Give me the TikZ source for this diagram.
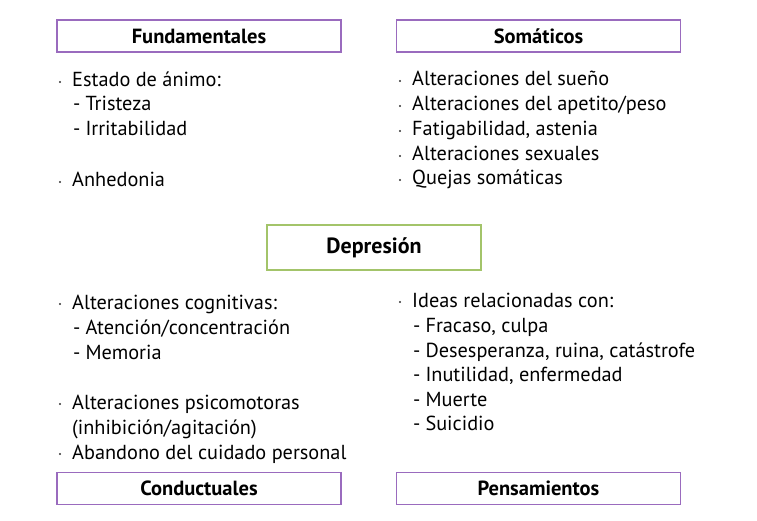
\documentclass[tikz,border=0pt]{standalone}
\usepackage{fontspec}
\setmainfont{PT Sans}
\begin{document}
\begin{tikzpicture}[x=1pt,y=-1pt,
  catbox/.style={draw=catpurple,line width=1.3pt,minimum width=284pt,minimum height=32pt,inner sep=0pt,font=\fontsize{20.5}{22}\selectfont\bfseries},
  mainbox/.style={draw=maingreen,line width=1.3pt,minimum width=214pt,minimum height=45pt,inner sep=0pt,font=\fontsize{22}{24}\selectfont\bfseries},
  item/.style={anchor=west,inner sep=0pt,text height=18pt,text depth=4pt,font=\fontsize{20.3}{22}\selectfont},
  bul/.style={circle,fill=black!80,inner sep=0pt,minimum size=2.2pt}]
\definecolor{catpurple}{HTML}{9A6BBE}
\definecolor{maingreen}{HTML}{A3C46A}
\useasboundingbox (0,0) rectangle (757,521);
% boxes
\node[catbox] (fund) at (199,36) {Fundamentales};
\node[catbox] (soma) at (538.5,36) {Somáticos};
\node[mainbox] (dep) at (374,247.5) {Depresión};
\node[catbox] (cond) at (199,488.5) {Conductuales};
\node[catbox] (pens) at (538.5,488.5) {Pensamientos};
% Fundamentales
\node[bul] (b1) at (60,82) {};
\node[item] (f1) at (72,80) {Estado de ánimo:};
\node[item] (f2) at (73,104) {-\hspace{5pt}Tristeza};
\node[item] (f3) at (73,129) {-\hspace{5pt}Irritabilidad};
\node[bul] (b2) at (60,182) {};
\node[item] (f4) at (72,180) {Anhedonia};
% Somaticos
\node[bul] (b3) at (400,81) {};
\node[item] (s1) at (412,79) {Alteraciones del sueño};
\node[bul] (b4) at (400,106) {};
\node[item] (s2) at (412,104) {Alteraciones del apetito/peso};
\node[bul] (b5) at (400,131) {};
\node[item] (s3) at (412,129) {Fatigabilidad, astenia};
\node[bul] (b6) at (400,156) {};
\node[item] (s4) at (412,154) {Alteraciones sexuales};
\node[bul] (b7) at (400,180) {};
\node[item] (s5) at (412,178) {Quejas somáticas};
% Conductuales
\node[bul] (b8) at (60,304) {};
\node[item] (c1) at (72,302) {Alteraciones cognitivas:};
\node[item] (c2) at (73,327) {-\hspace{5pt}Atención/concentración};
\node[item] (c3) at (73,352) {-\hspace{5pt}Memoria};
\node[bul] (b9) at (60,404) {};
\node[item] (c4) at (72,402) {Alteraciones psicomotoras};
\node[item] (c5) at (72,427) {(inhibición/agitación)};
\node[bul] (b10) at (60,454) {};
\node[item] (c6) at (72,452) {Abandono del cuidado personal};
% Pensamientos
\node[bul] (b11) at (400,302) {};
\node[item] (p1) at (412,300) {Ideas relacionadas con:};
\node[item] (p2) at (413,325) {-\hspace{5pt}Fracaso, culpa};
\node[item] (p3) at (413,350) {-\hspace{5pt}Desesperanza, ruina, catástrofe};
\node[item] (p4) at (413,374) {-\hspace{5pt}Inutilidad, enfermedad};
\node[item] (p5) at (413,399) {-\hspace{5pt}Muerte};
\node[item] (p6) at (413,423) {-\hspace{5pt}Suicidio};
\end{tikzpicture}
\end{document}
